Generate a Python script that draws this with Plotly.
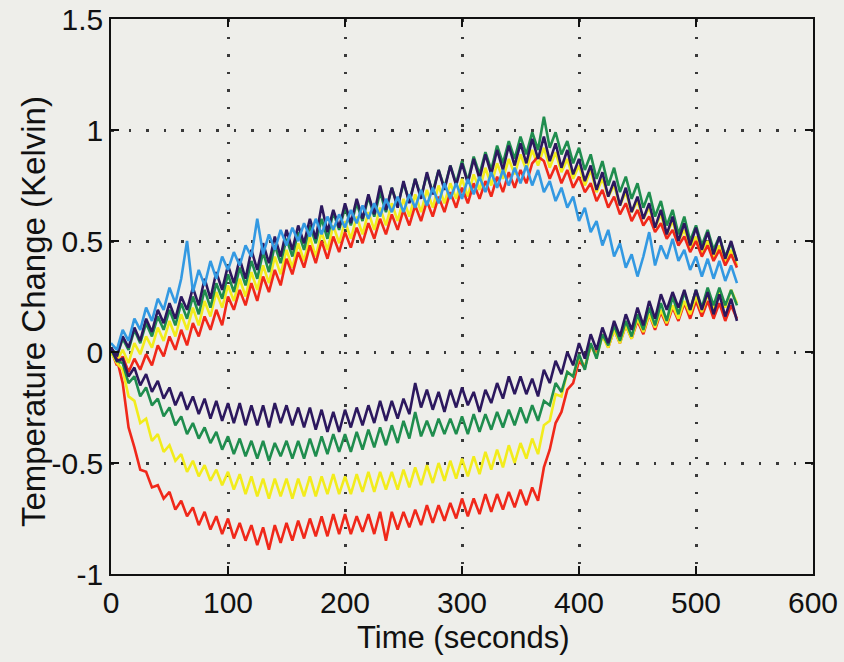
import plotly.graph_objects as go

time_s = [i * 5 for i in range(108)]

blue_up = [
    0.04, 0.01, 0.10, 0.05, 0.15, 0.10, 0.20, 0.14, 0.24, 0.19,
    0.29, 0.22, 0.33, 0.50, 0.27, 0.37, 0.30, 0.41, 0.33, 0.43,
    0.37, 0.45, 0.39, 0.48, 0.43, 0.60, 0.44, 0.53, 0.46, 0.55,
    0.48, 0.56, 0.50, 0.58, 0.52, 0.60, 0.53, 0.61, 0.55, 0.62,
    0.56, 0.64, 0.58, 0.66, 0.60, 0.67, 0.61, 0.69, 0.63, 0.70,
    0.63, 0.71, 0.65, 0.73, 0.66, 0.74, 0.67, 0.76, 0.69, 0.76,
    0.69, 0.78, 0.71, 0.79, 0.72, 0.81, 0.74, 0.82, 0.75, 0.83,
    0.76, 0.84, 0.75, 0.82, 0.72, 0.77, 0.68, 0.74, 0.65, 0.70,
    0.59, 0.65, 0.54, 0.59, 0.48, 0.55, 0.43, 0.49, 0.38, 0.44,
    0.34, 0.43, 0.54, 0.39, 0.48, 0.42, 0.51, 0.41, 0.46, 0.37,
    0.43, 0.34, 0.42, 0.33, 0.41, 0.32, 0.39, 0.31,
]

purple_up = [
    0.02, -0.02, 0.07, 0.02, 0.11, 0.05, 0.15, 0.09, 0.19, 0.13,
    0.22, 0.15, 0.25, 0.19, 0.29, 0.21, 0.33, 0.24, 0.36, 0.28,
    0.39, 0.31, 0.42, 0.33, 0.46, 0.37, 0.49, 0.40, 0.52, 0.43,
    0.55, 0.46, 0.57, 0.49, 0.60, 0.51, 0.66, 0.54, 0.64, 0.56,
    0.67, 0.58, 0.69, 0.60, 0.71, 0.62, 0.75, 0.64, 0.74, 0.65,
    0.77, 0.67, 0.78, 0.69, 0.81, 0.71, 0.82, 0.73, 0.84, 0.75,
    0.85, 0.76, 0.87, 0.78, 0.89, 0.80, 0.91, 0.82, 0.93, 0.84,
    0.94, 0.85, 0.96, 0.87, 0.97, 0.86, 0.94, 0.83, 0.91, 0.80,
    0.87, 0.77, 0.84, 0.73, 0.81, 0.70, 0.77, 0.66, 0.74, 0.63,
    0.70, 0.60, 0.67, 0.56, 0.64, 0.53, 0.61, 0.50, 0.58, 0.48,
    0.56, 0.46, 0.54, 0.44, 0.52, 0.42, 0.50, 0.41,
]

green_up = [
    0.02, -0.02, 0.06, 0.01, 0.10, 0.04, 0.13, 0.07, 0.16, 0.10,
    0.19, 0.12, 0.22, 0.15, 0.25, 0.17, 0.28, 0.20, 0.31, 0.24,
    0.35, 0.27, 0.38, 0.30, 0.41, 0.33, 0.45, 0.36, 0.48, 0.40,
    0.51, 0.43, 0.54, 0.46, 0.57, 0.49, 0.60, 0.51, 0.63, 0.55,
    0.65, 0.57, 0.67, 0.59, 0.70, 0.61, 0.72, 0.63, 0.74, 0.66,
    0.76, 0.68, 0.78, 0.70, 0.80, 0.72, 0.82, 0.74, 0.84, 0.76,
    0.86, 0.77, 0.88, 0.80, 0.90, 0.82, 0.93, 0.85, 0.95, 0.87,
    0.97, 0.89, 0.99, 0.91, 1.06, 0.92, 0.99, 0.89, 0.95, 0.85,
    0.92, 0.82, 0.89, 0.78, 0.86, 0.75, 0.83, 0.72, 0.79, 0.69,
    0.76, 0.65, 0.72, 0.61, 0.68, 0.57, 0.64, 0.53, 0.61, 0.50,
    0.57, 0.48, 0.55, 0.46, 0.52, 0.43, 0.49, 0.41,
]

yellow_up = [
    0.02, -0.04, 0.01, -0.05, 0.04, -0.01, 0.07, 0.02, 0.11, 0.05,
    0.14, 0.07, 0.17, 0.10, 0.20, 0.12, 0.23, 0.16, 0.27, 0.20,
    0.30, 0.23, 0.33, 0.25, 0.36, 0.28, 0.39, 0.31, 0.43, 0.35,
    0.46, 0.38, 0.49, 0.41, 0.52, 0.43, 0.54, 0.46, 0.57, 0.49,
    0.59, 0.51, 0.61, 0.53, 0.63, 0.55, 0.65, 0.57, 0.67, 0.59,
    0.69, 0.61, 0.71, 0.63, 0.73, 0.65, 0.75, 0.67, 0.76, 0.69,
    0.78, 0.70, 0.80, 0.73, 0.83, 0.75, 0.85, 0.78, 0.87, 0.80,
    0.89, 0.82, 0.91, 0.84, 0.92, 0.83, 0.90, 0.81, 0.87, 0.78,
    0.84, 0.75, 0.82, 0.72, 0.78, 0.70, 0.75, 0.66, 0.72, 0.63,
    0.68, 0.60, 0.65, 0.56, 0.62, 0.53, 0.59, 0.50, 0.55, 0.47,
    0.52, 0.44, 0.50, 0.42, 0.48, 0.40, 0.46, 0.39,
]

red_up = [
    0.01, -0.06, -0.02, -0.09, -0.03, -0.08, -0.01, -0.06, 0.03, -0.02,
    0.07, 0.01, 0.10, 0.03, 0.13, 0.07, 0.16, 0.10, 0.19, 0.12,
    0.25, 0.19, 0.28, 0.21, 0.31, 0.23, 0.34, 0.27, 0.37, 0.30,
    0.42, 0.35, 0.45, 0.38, 0.48, 0.40, 0.50, 0.42, 0.52, 0.45,
    0.54, 0.47, 0.56, 0.49, 0.58, 0.51, 0.60, 0.53, 0.62, 0.55,
    0.64, 0.57, 0.66, 0.59, 0.68, 0.61, 0.70, 0.63, 0.72, 0.65,
    0.74, 0.67, 0.76, 0.69, 0.77, 0.70, 0.79, 0.72, 0.81, 0.74,
    0.82, 0.76, 0.85, 0.88, 0.86, 0.78, 0.84, 0.76, 0.82, 0.74,
    0.79, 0.72, 0.76, 0.68, 0.73, 0.65, 0.70, 0.62, 0.67, 0.59,
    0.64, 0.57, 0.61, 0.54, 0.58, 0.51, 0.55, 0.48, 0.52, 0.45,
    0.50, 0.43, 0.48, 0.41, 0.46, 0.39, 0.44, 0.38,
]

red_low = [
    0.00, -0.03, -0.14, -0.34, -0.43, -0.53, -0.54, -0.61, -0.60, -0.66,
    -0.63, -0.71, -0.67, -0.74, -0.70, -0.78, -0.72, -0.80, -0.74, -0.82,
    -0.75, -0.84, -0.77, -0.85, -0.78, -0.87, -0.79, -0.89, -0.78, -0.86,
    -0.77, -0.85, -0.76, -0.84, -0.75, -0.83, -0.74, -0.83, -0.73, -0.82,
    -0.73, -0.82, -0.74, -0.81, -0.73, -0.82, -0.72, -0.85, -0.72, -0.80,
    -0.72, -0.79, -0.71, -0.78, -0.69, -0.77, -0.69, -0.76, -0.68, -0.75,
    -0.66, -0.74, -0.66, -0.73, -0.64, -0.72, -0.64, -0.71, -0.63, -0.70,
    -0.62, -0.69, -0.61, -0.67, -0.52, -0.44, -0.32, -0.27, -0.17, -0.14,
    -0.04, -0.07, 0.03, -0.01, 0.08, 0.02, 0.10, 0.04, 0.12, 0.06,
    0.14, 0.08, 0.17, 0.10, 0.18, 0.12, 0.20, 0.14, 0.22, 0.15,
    0.23, 0.16, 0.23, 0.15, 0.22, 0.14, 0.21, 0.15,
]

yellow_low = [
    0.00, -0.05, -0.08, -0.20, -0.22, -0.32, -0.30, -0.40, -0.37, -0.45,
    -0.42, -0.49, -0.46, -0.54, -0.49, -0.56, -0.51, -0.58, -0.53, -0.60,
    -0.54, -0.62, -0.55, -0.64, -0.56, -0.65, -0.57, -0.66, -0.57, -0.65,
    -0.57, -0.66, -0.57, -0.65, -0.56, -0.65, -0.56, -0.64, -0.55, -0.64,
    -0.56, -0.64, -0.55, -0.63, -0.54, -0.63, -0.54, -0.62, -0.54, -0.62,
    -0.53, -0.61, -0.52, -0.60, -0.51, -0.59, -0.50, -0.58, -0.49, -0.57,
    -0.48, -0.56, -0.47, -0.55, -0.45, -0.53, -0.44, -0.52, -0.42, -0.50,
    -0.41, -0.48, -0.39, -0.46, -0.33, -0.31, -0.19, -0.20, -0.09, -0.11,
    -0.02, -0.07, 0.03, -0.02, 0.07, 0.02, 0.10, 0.04, 0.12, 0.06,
    0.15, 0.09, 0.17, 0.11, 0.19, 0.13, 0.21, 0.15, 0.23, 0.17,
    0.25, 0.18, 0.26, 0.19, 0.27, 0.20, 0.28, 0.22,
]

green_low = [
    0.01, -0.04, -0.05, -0.14, -0.11, -0.20, -0.16, -0.24, -0.21, -0.29,
    -0.25, -0.33, -0.29, -0.37, -0.32, -0.39, -0.34, -0.41, -0.36, -0.44,
    -0.38, -0.46, -0.39, -0.47, -0.40, -0.48, -0.40, -0.49, -0.41, -0.47,
    -0.40, -0.48, -0.40, -0.48, -0.39, -0.47, -0.38, -0.46, -0.37, -0.45,
    -0.37, -0.45, -0.36, -0.44, -0.35, -0.43, -0.34, -0.42, -0.33, -0.41,
    -0.31, -0.39, -0.27, -0.38, -0.31, -0.38, -0.30, -0.37, -0.30, -0.37,
    -0.29, -0.37, -0.28, -0.36, -0.28, -0.35, -0.27, -0.34, -0.26, -0.33,
    -0.25, -0.32, -0.24, -0.31, -0.22, -0.24, -0.14, -0.18, -0.09, -0.11,
    -0.01, -0.08, 0.04, -0.03, 0.08, 0.03, 0.12, 0.05, 0.14, 0.07,
    0.17, 0.10, 0.20, 0.12, 0.22, 0.14, 0.25, 0.17, 0.27, 0.19,
    0.28, 0.20, 0.29, 0.21, 0.29, 0.21, 0.28, 0.21,
]

purple_low = [
    0.02, -0.04, -0.03, -0.11, -0.07, -0.15, -0.10, -0.18, -0.13, -0.21,
    -0.16, -0.24, -0.18, -0.26, -0.20, -0.28, -0.21, -0.30, -0.22, -0.31,
    -0.23, -0.32, -0.23, -0.33, -0.24, -0.33, -0.24, -0.34, -0.23, -0.32,
    -0.24, -0.33, -0.25, -0.34, -0.25, -0.35, -0.26, -0.36, -0.27, -0.36,
    -0.26, -0.34, -0.25, -0.33, -0.24, -0.32, -0.22, -0.31, -0.22, -0.30,
    -0.21, -0.28, -0.14, -0.25, -0.17, -0.26, -0.18, -0.27, -0.17, -0.25,
    -0.16, -0.24, -0.18, -0.27, -0.17, -0.23, -0.14, -0.21, -0.11, -0.19,
    -0.11, -0.19, -0.12, -0.20, -0.08, -0.14, -0.04, -0.10, 0.00, -0.06,
    0.04, -0.03, 0.08, 0.01, 0.11, 0.04, 0.14, 0.07, 0.17, 0.10,
    0.20, 0.12, 0.23, 0.15, 0.26, 0.19, 0.27, 0.20, 0.28, 0.19,
    0.28, 0.19, 0.27, 0.17, 0.26, 0.16, 0.24, 0.14,
]

x_ticks = [0, 100, 200, 300, 400, 500, 600]
y_ticks = [-1, -0.5, 0, 0.5, 1, 1.5]
y_tick_text = ["-1", "-0.5", "0", "0.5", "1", "1.5"]
x_title = "Time (seconds)"
y_title = "Temperature Change (Kelvin)"

BLUE = "#3399e2"
PURPLE = "#2c185e"
GREEN = "#1f8d4e"
YELLOW = "#f2ec1c"
RED = "#f0281a"

series = [
    ("yellow up", yellow_up, YELLOW),
    ("red up", red_up, RED),
    ("green up", green_up, GREEN),
    ("purple up", purple_up, PURPLE),
    ("blue up", blue_up, BLUE),
    ("red low", red_low, RED),
    ("yellow low", yellow_low, YELLOW),
    ("green low", green_low, GREEN),
    ("purple low", purple_low, PURPLE),
]

fig = go.Figure()
for name, vals, col in series:
    fig.add_trace(go.Scatter(x=time_s, y=vals, mode="lines", name=name,
                             line=dict(color=col, width=2.6)))

BG = "#eeeeea"
font_family = "Liberation Sans, Arial, sans-serif"

fig.update_layout(
    width=844, height=662,
    paper_bgcolor=BG, plot_bgcolor=BG,
    showlegend=False,
    margin=dict(l=111, r=31, t=19, b=88),
    font=dict(family=font_family, size=30, color="#111111"),
)
axis_common = dict(
    automargin=False,
    showgrid=True, gridcolor="#3a3a3a", gridwidth=2.5, griddash="2.5px,15px",
    showline=True, linecolor="#111111", linewidth=1.5, mirror="ticks",
    ticks="inside", ticklen=8, tickwidth=1.5, tickcolor="#111111",
    zeroline=False, tickfont=dict(size=30),
)
fig.update_xaxes(
    range=[0, 600], tickvals=x_ticks, ticktext=[str(v) for v in x_ticks],
    ticklabelstandoff=1,
    **axis_common,
)
fig.update_yaxes(
    range=[-1, 1.5], tickvals=y_ticks, ticktext=y_tick_text,
    **axis_common,
)

fig.add_annotation(
    text=x_title, xref="paper", yref="paper", x=0.501, y=-0.115,
    xanchor="center", yanchor="middle", showarrow=False,
    font=dict(size=31, family=font_family, color="#111111"),
)
fig.add_annotation(
    text=y_title, xref="paper", yref="paper", x=-0.111, y=0.472,
    xanchor="center", yanchor="middle", showarrow=False, textangle=-90,
    font=dict(size=33, family=font_family, color="#111111"),
)

fig.write_html(
    "out.html",
    config={"displayModeBar": False},
    post_script="document.body.style.margin='0';document.body.style.background='#eeeeea';",
)
